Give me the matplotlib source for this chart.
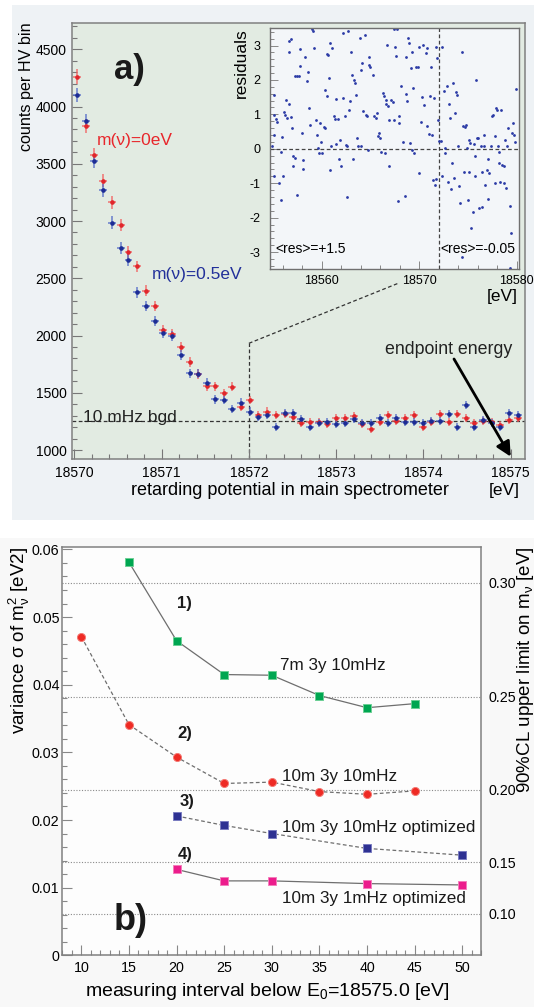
import numpy as np
import matplotlib
matplotlib.use('Agg')
import matplotlib.pyplot as plt
from matplotlib.patches import Rectangle
from matplotlib.ticker import MultipleLocator, FixedLocator, NullLocator, FuncFormatter

plt.rcParams['font.family'] = ['Liberation Sans', 'DejaVu Sans']
plt.rcParams['mathtext.fontset'] = 'custom'
plt.rcParams['mathtext.rm'] = 'Liberation Sans'
plt.rcParams['mathtext.it'] = 'Liberation Sans'
plt.rcParams['mathtext.bf'] = 'Liberation Sans:bold'
plt.rcParams['axes.unicode_minus'] = False

# ---------------- panel a: spectrum near endpoint ----------------
energy = [18570.03, 18570.13, 18570.23, 18570.33, 18570.43, 18570.53, 18570.62, 18570.72,
          18570.82, 18570.92, 18571.02, 18571.12, 18571.22, 18571.32, 18571.42, 18571.52,
          18571.61, 18571.71, 18571.81, 18571.91, 18572.01, 18572.11, 18572.21, 18572.31,
          18572.41, 18572.51, 18572.60, 18572.70, 18572.80, 18572.90, 18573.00, 18573.10,
          18573.20, 18573.30, 18573.40, 18573.50, 18573.59, 18573.69, 18573.79, 18573.89,
          18573.99, 18574.09, 18574.19, 18574.29, 18574.39, 18574.49, 18574.58, 18574.68,
          18574.78, 18574.88, 18574.98, 18575.08]
counts_m0 = [4260, 3832, 3577, 3352, 3163, 2965, 2727, 2603, 2391, 2258,
             2048, 2013, 1897, 1771, 1664, 1559, 1559, 1495, 1553, 1378,
             1437, 1306, 1335, 1306, 1315, 1291, 1233, 1247, 1242, 1227,
             1282, 1277, 1300, 1224, 1180, 1247, 1306, 1253, 1277, 1306,
             1198, 1247, 1314, 1247, 1312, 1277, 1239, 1250, 1247, 1218,
             1262, 1277]
counts_m05 = [4101, 3876, 3524, 3268, 2985, 2767, 2659, 2377, 2258, 2127,
              2019, 1996, 1827, 1670, 1668, 1588, 1443, 1437, 1358, 1413,
              1335, 1291, 1306, 1198, 1325, 1320, 1268, 1198, 1239, 1247,
              1224, 1233, 1268, 1233, 1233, 1277, 1239, 1282, 1242, 1242,
              1239, 1250, 1256, 1312, 1204, 1393, 1204, 1262, 1233, 1198,
              1320, 1306]
bgd_level = 1250
zoom_edge = 18572
x_ticks_a = [18570, 18571, 18572, 18573, 18574, 18575]
y_ticks_a = [1000, 1500, 2000, 2500, 3000, 3500, 4000, 4500]

# residuals (inset)
res_energy = [
    18555.1, 18555.15, 18555.1, 18554.9, 18555.15, 18555.6, 18555.8, 18555.8, 18555.3, 18555.4,
    18555.9, 18556.0, 18556.3, 18556.1, 18556.2, 18556.4, 18556.6, 18556.6, 18556.7, 18556.9,
    18556.85, 18557.0, 18557.1, 18557.1, 18557.3, 18557.5,
    18557.3, 18557.5, 18557.7, 18557.8, 18557.8, 18558.0, 18558.1, 18558.1, 18558.3, 18558.5,
    18558.6, 18558.75, 18558.8, 18559.0, 18559.15, 18559.25, 18559.4, 18559.55, 18559.65, 18559.75,
    18559.85, 18559.9, 18560.0, 18560.2, 18560.3, 18560.35, 18560.5, 18560.5, 18560.7, 18560.8,
    18560.85, 18560.9, 18561.0, 18561.1,
    18561.25, 18561.35, 18561.45, 18561.5, 18561.65, 18561.8, 18561.85, 18561.95, 18562.15, 18562.2,
    18562.4, 18562.5, 18562.55, 18562.6, 18562.7, 18562.8, 18562.95, 18563.05, 18563.15, 18563.2,
    18563.3, 18563.4, 18563.5, 18563.65, 18563.75, 18563.9, 18564.0, 18564.05, 18564.15, 18564.25,
    18564.4, 18564.5, 18564.6, 18564.75,
    18564.9, 18564.9, 18565.0, 18565.25, 18565.4, 18565.6, 18565.65, 18565.75, 18565.85, 18565.95,
    18566.1, 18566.25, 18566.35, 18566.45, 18566.55, 18566.6, 18566.7, 18566.8, 18566.9, 18566.95,
    18567.1, 18567.3, 18567.4, 18567.45, 18567.55, 18567.6, 18567.7, 18567.8, 18567.95, 18567.9,
    18568.15, 18568.3, 18568.5, 18568.6, 18568.65, 18568.8, 18568.9, 18569.0, 18569.05, 18569.15,
    18569.25, 18569.3, 18569.4, 18569.5,
    18569.65, 18569.85, 18569.95, 18570.0, 18570.15, 18570.25, 18570.35, 18570.5, 18570.7, 18570.85,
    18570.85, 18571.0, 18571.1, 18571.2, 18571.3, 18571.4, 18571.5, 18571.6, 18571.7, 18571.75,
    18571.85, 18571.95, 18572.05, 18572.2, 18572.3,
    18572.3, 18572.55, 18572.65, 18572.7, 18572.9, 18573.0, 18573.05, 18573.15, 18573.3, 18573.4,
    18573.5, 18573.55, 18573.65, 18573.8, 18573.9, 18574.0, 18574.05, 18574.15, 18574.35, 18574.5,
    18574.6, 18574.75, 18574.8, 18574.9, 18575.0, 18575.1, 18575.15, 18575.25, 18575.35, 18575.5,
    18575.6, 18575.7, 18575.75, 18575.85, 18575.95, 18576.05, 18576.15, 18576.3, 18576.4, 18576.45,
    18576.6, 18576.7, 18576.8, 18576.95, 18577.05, 18577.1, 18577.2, 18577.35, 18577.45, 18577.6,
    18577.75, 18577.8, 18577.85, 18577.95, 18578.05, 18578.15, 18578.2, 18578.3, 18578.4, 18578.5,
    18578.65, 18578.75, 18578.8, 18578.9, 18579.0, 18579.15, 18579.3, 18579.4, 18579.55, 18579.65,
    18579.75, 18579.85, 18579.9, 18574.4, 18579.3]
res_values = [
    1.57, 0.99, 0.41, 0.09, -0.8, -1.0, -1.48, -0.08, 0.86, 0.79,
    0.33, -0.78, 1.42, 1.08, 0.99, 0.89, 1.3, 2.82, 3.14, 3.18,
    0.92, 0.6, -0.51, -0.22, -0.27, -1.33,
    2.1, 2.12, 2.1, 2.9, 2.41, 0.45, -0.32, -0.59, 2.66, 1.98,
    2.24, 1.18, 0.7, 3.47, 3.43, 2.92, 0.84, 0.41, 0.02, -0.11,
    0.74, 0.21, -0.13, 0.62, 1.71, 0.6, 2.74, 1.52, 2.72, 2.05,
    -0.61, 3.06, 0.07, 2.92,
    0.96, 0.86, 0.14, 1.44, 0.86, -0.3, 0.26, -0.51, 3.37, 1.47,
    0.96, 0.12, -1.4, 0.09, 3.43, 1.13, 1.39, 2.82, 2.14, -0.3,
    2.0, 1.92, 1.57, 0.31, 0.09, 3.21, 0.07, 2.29, 2.48, 1.11,
    3.3, 0.99, 0.96, -0.03,
    2.66, 2.43, 2.37, 2.14, 0.94, 0.89, 1.03, 0.36, 0.45, 0.31,
    -0.08, 1.61, 1.54, -0.13, 1.42, 1.3, 3.01, 1.25, -0.51, 0.84,
    1.42, 1.37, 0.84, 3.47, 2.97, 2.7, 3.48, -1.53, 0.74, 0.94,
    1.83, 0.21, -1.38, 1.58, 2.68, 1.4, 3.21, 3.06, 0.16, 2.34,
    -0.03, 2.82, 1.76, -0.11,
    2.39, 2.37, 2.97, -0.71, 0.79, 1.5, 3.01, 1.28, 2.79, 2.92,
    0.65, 0.42, 1.52, 2.39, 0.41, -0.9, 1.47, -1.04, 2.97, -0.88,
    2.63, 0.84, 0.24, 0.23, 2.97,
    -0.8, 1.69, 0.02, -0.11, 1.83, -0.95, 1.3, 0.89, -1.17, -0.42,
    1.9, -0.85, 1.03, 1.66, 1.57, 0.07, -1.09, -1.57, 2.82, 0.65,
    -0.66, 0.63, 0.7, 0.02, -1.48, -0.66, 0.26, 0.16, -2.3, -1.85,
    0.14, -0.22, -0.8, 2.0, 0.31, 0.31, -1.72, 0.07, -0.66, -1.69,
    0.41, 0.07, -1.04, -0.61, -1.46, -0.3, -0.71, 0.07, 0.96, 0.99,
    0.36, -1.0, 1.18, 1.13, 0.07, -0.08, -0.42, -0.95, 1.13, -0.46,
    -0.51, -0.98, 0.26, -1.14, 0.07, 0.6, -1.65, -2.46, 0.47, 0.74,
    0.41, 0.21, 1.73, -3.14, -3.45]
res_x_ticks = [18560, 18570, 18580]
res_y_ticks = [-3, -2, -1, 0, 1, 2, 3]

# ---------------- panel b: sensitivity vs measuring interval ----------------
interval_1 = [15, 20, 25, 30, 35, 40, 45]
sigma_1 = [0.0581, 0.0465, 0.0415, 0.0414, 0.0384, 0.0366, 0.0372]
interval_2 = [10, 15, 20, 25, 30, 35, 40, 45]
sigma_2 = [0.0471, 0.0341, 0.0293, 0.0254, 0.0256, 0.0242, 0.0238, 0.0243]
interval_3 = [20, 25, 30, 40, 50]
sigma_3 = [0.0206, 0.0192, 0.0180, 0.0158, 0.0148]
interval_4 = [20, 25, 30, 40, 50]
sigma_4 = [0.0127, 0.0110, 0.0110, 0.0106, 0.0104]
series_labels = ['7m 3y 10mHz', '10m 3y 10mHz', '10m 3y 10mHz optimized', '10m 3y 1mHz optimized']
upper_limit_ticks = [0.10, 0.15, 0.20, 0.25, 0.30]
cl_factor = 0.612   # sigma = cl_factor * m^2

W, H = 534, 1007
fig = plt.figure(figsize=(W / 100, H / 100), dpi=100)
fig.patch.set_facecolor('white')

def fx(px):
    return px / W

def fy(py):
    return 1 - py / H

int_fmt = FuncFormatter(lambda v, p: f'{v:.0f}')

# background panels
fig.add_artist(Rectangle((fx(12), fy(520)), fx(522), 515 / H, transform=fig.transFigure,
                         facecolor='#eef2f5', edgecolor='none', zorder=-10))
fig.add_artist(Rectangle((0, 0), 1, fy(538), transform=fig.transFigure,
                         facecolor='#f8f8f8', edgecolor='none', zorder=-10))

# ---- main axes a ----
ax = fig.add_axes([fx(71.7), fy(459.3), fx(453), 436 / H])
ax.set_facecolor('#e2ebe2')
ax.set_xlim(18569.97, 18575.16)
ax.set_ylim(919, 4727)
for s in ax.spines.values():
    s.set_color('#808080')
    s.set_linewidth(1.1)
ax.xaxis.set_major_locator(FixedLocator(x_ticks_a))
ax.xaxis.set_major_formatter(int_fmt)
ax.xaxis.set_minor_locator(MultipleLocator(0.2))
ax.yaxis.set_major_locator(FixedLocator(y_ticks_a))
ax.yaxis.set_major_formatter(int_fmt)
ax.yaxis.set_minor_locator(MultipleLocator(100))
ax.tick_params(which='both', direction='in', top=False, right=False, color='#777777', width=0.8)
ax.tick_params(which='major', length=7, labelsize=10)
ax.tick_params(which='minor', length=3.5)
ax.tick_params(axis='y', pad=3.5)
ax.tick_params(axis='x', pad=5)

ax.axhline(bgd_level, color='#333333', lw=0.9, ls=(0, (3, 2)), zorder=1)
ax.plot([zoom_edge, zoom_edge], [919, 1932], color='#333333', lw=0.9, ls=(0, (3, 2)), zorder=1)
ax.plot([zoom_edge, 18573.71], [1932, 2456], color='#333333', lw=0.9, ls=(0, (3, 2)), zorder=1)

ax.errorbar(energy, counts_m0, xerr=0.045, yerr=np.sqrt(counts_m0), fmt='o', ms=2.3,
            mfc='#e0262b', mec='#e0262b', ecolor=(0.95, 0.35, 0.35, 0.65), elinewidth=1.4,
            capsize=0, zorder=3)
ax.errorbar(energy, counts_m05, xerr=0.045, yerr=np.sqrt(counts_m05), fmt='o', ms=2.3,
            mfc='#1c2c94', mec='#1c2c94', ecolor=(0.30, 0.40, 0.78, 0.65), elinewidth=1.4,
            capsize=0, zorder=3)

ax.text(0.0558, 0.7323, 'm(ν)=0eV', transform=ax.transAxes, color='#e8262b', fontsize=12.5,
        ha='left', va='center')
ax.text(0.1766, 0.425, 'm(ν)=0.5eV', transform=ax.transAxes, color='#22309a', fontsize=12.5,
        ha='left', va='center')
ax.text(0.025, 0.097, '10 mHz bgd', transform=ax.transAxes, color='#222222', fontsize=12.5,
        ha='left', va='center')
ax.text(0.6916, 0.2507, 'endpoint energy', transform=ax.transAxes, color='#222222', fontsize=12.8,
        ha='left', va='center')
ax.annotate('', xy=(18575.0, 942), xytext=(18574.35, 1795),
            arrowprops=dict(arrowstyle='-|>', color='black', lw=2.0, mutation_scale=22,
                            shrinkA=0, shrinkB=0), zorder=5)
ax.text(0.1265, 0.893, 'a)', transform=ax.transAxes, fontsize=25, fontweight='bold',
        ha='center', va='center', color='#1a1a1a')

fig.text(fx(27), fy(22), 'counts per HV bin', rotation=90, ha='center', va='top', fontsize=11.6)
fig.text(fx(131), fy(490), 'retarding potential in main spectrometer', ha='left', va='center', fontsize=13)
fig.text(fx(520), fy(490), '[eV]', ha='right', va='center', fontsize=12.5)

# ---- inset residuals ----
axi = fig.add_axes([fx(270), fy(269.3), fx(249.3), 241 / H])
axi.set_facecolor('#f3f6f9')
axi.set_xlim(18554.7, 18580.27)
axi.set_ylim(-3.5, 3.5)
for s in axi.spines.values():
    s.set_color('#707070')
    s.set_linewidth(1.0)
axi.xaxis.set_major_locator(FixedLocator(res_x_ticks))
axi.xaxis.set_major_formatter(int_fmt)
axi.xaxis.set_minor_locator(MultipleLocator(2))
axi.yaxis.set_major_locator(FixedLocator(res_y_ticks))
axi.yaxis.set_major_formatter(int_fmt)
axi.yaxis.set_minor_locator(MultipleLocator(0.2))
axi.tick_params(which='both', direction='in', top=False, right=False, color='#888888', width=0.7)
axi.tick_params(which='major', length=6, labelsize=9)
axi.tick_params(which='minor', length=3)
axi.tick_params(axis='y', pad=7)
axi.tick_params(axis='x', pad=4)
axi.axhline(0, color='#444444', lw=0.9, ls=(0, (3, 2)))
axi.axvline(zoom_edge, color='#444444', lw=0.9, ls=(0, (3, 2)))
axi.plot(res_energy, res_values, 'o', ms=2.0, color='#2b3ba6', mec='none')
axi.text(0.02, 0.085, '<res>=+1.5', transform=axi.transAxes, fontsize=10, ha='left', va='center')
axi.text(0.685, 0.085, '<res>=-0.05', transform=axi.transAxes, fontsize=10, ha='left', va='center')
fig.text(fx(241.5), fy(28), 'residuals', rotation=90, ha='center', va='top', fontsize=12.5)
fig.text(fx(518), fy(296), '[eV]', ha='right', va='center', fontsize=12.5)

# ---- panel b ----
axb = fig.add_axes([fx(62.3), fy(955.3), fx(419), 408.6 / H])
axb.set_facecolor('#fdfdfd')
axb.set_xlim(8, 52)
axb.set_ylim(0, 0.0604)
for s in axb.spines.values():
    s.set_color('#808080')
    s.set_linewidth(1.1)
axb.xaxis.set_major_locator(MultipleLocator(5))
axb.xaxis.set_major_formatter(int_fmt)
axb.xaxis.set_minor_locator(MultipleLocator(1))
axb.yaxis.set_major_locator(MultipleLocator(0.01))
axb.yaxis.set_minor_locator(MultipleLocator(0.002))
axb.yaxis.set_major_formatter(FuncFormatter(lambda v, p: '0' if abs(v) < 1e-9 else f'{v:.2f}'))
axb.tick_params(which='both', direction='in', top=False, right=False, color='#888888', width=0.8)
axb.tick_params(which='major', length=7, labelsize=10.3)
axb.tick_params(which='minor', length=3.5)
axb.tick_params(axis='y', pad=2)
axb.tick_params(axis='x', pad=4)

for m in upper_limit_ticks:
    axb.axhline(cl_factor * m ** 2, color='#8a8a8a', lw=0.8, ls=(0, (1, 1.5)), zorder=1)

line_col = '#6e6e6e'
axb.plot(interval_1, sigma_1, '-', color=line_col, lw=0.9, zorder=2)
axb.plot(interval_2, sigma_2, color=line_col, lw=0.9, ls=(0, (3, 2)), zorder=2)
axb.plot(interval_3, sigma_3, color=line_col, lw=0.9, ls=(0, (3, 2)), zorder=2)
axb.plot(interval_4, sigma_4, '-', color=line_col, lw=0.9, zorder=2)
axb.plot(interval_1, sigma_1, 's', ms=5.2, color='#00a651', mec='#6ccf95', mew=0.7, ls='none', zorder=3)
axb.plot(interval_2, sigma_2, 'o', ms=5.8, color='#ee2a24', mec='#f47a74', mew=0.7, ls='none', zorder=3)
axb.plot(interval_3, sigma_3, 's', ms=5.2, color='#2e3192', mec='#7a7cc0', mew=0.7, ls='none', zorder=3)
axb.plot(interval_4, sigma_4, 's', ms=5.2, color='#ec1c8c', mec='#f47dbb', mew=0.7, ls='none', zorder=3)

for lab, xf, yf in [('1)', 0.2737, 0.8622), ('2)', 0.2737, 0.5418), ('3)', 0.281, 0.3752), ('4)', 0.276, 0.2479)]:
    axb.text(xf, yf, lab, transform=axb.transAxes, fontsize=12, fontweight='bold', ha='left', va='center',
             color='#1a1a1a')
for lab, xf, yf in zip(series_labels, [0.5203, 0.5251, 0.5251, 0.5251], [0.7085, 0.4365, 0.3117, 0.1385]):
    axb.text(xf, yf, lab, transform=axb.transAxes, fontsize=12.3, ha='left', va='center', color='#1a1a1a')
axb.text(0.1628, 0.084, 'b)', transform=axb.transAxes, fontsize=26, fontweight='bold',
         ha='center', va='center', color='#1a1a1a')

sec = axb.secondary_yaxis('right', functions=(lambda s: np.sqrt(np.clip(s, 0, None) / cl_factor),
                                              lambda m: cl_factor * np.asarray(m) ** 2))
sec.yaxis.set_major_locator(FixedLocator(upper_limit_ticks))
sec.yaxis.set_minor_locator(NullLocator())
sec.yaxis.set_major_formatter(FuncFormatter(lambda v, p: f'{v:.2f}'))
sec.tick_params(length=0, pad=5.5, labelsize=10.3)
sec.spines['right'].set_visible(False)

fig.text(fx(19), fy(547), r'variance σ of m$_{\nu}^{2}$ [eV2]', rotation=90, ha='center', va='top',
         fontsize=13.5)
fig.text(fx(525), fy(546), r'90%CL upper limit on m$_{\nu}$ [eV]', rotation=90, ha='center', va='top',
         fontsize=13.5)
fig.text(fx(85), fy(992), r'measuring interval below E$_{0}$=18575.0 [eV]', ha='left', va='center',
         fontsize=14)

fig.savefig('out.png', dpi=100)
